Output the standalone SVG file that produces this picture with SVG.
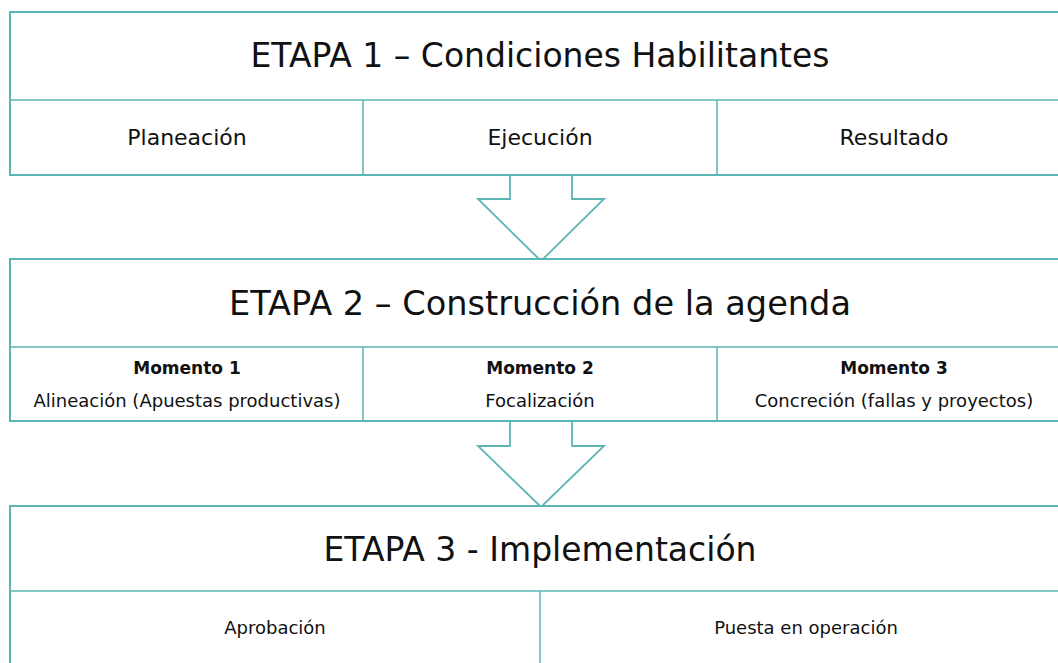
<svg xmlns="http://www.w3.org/2000/svg" width="1058" height="663" viewBox="0 0 1058 663">
<style>
.box{fill:#fff;stroke:#5BB5B5;stroke-width:2}
.div{stroke:#5BB5B5;stroke-width:1.5;fill:none}
.arrow{fill:#fff;stroke:#5BB5B5;stroke-width:1.8;stroke-linejoin:miter}
text{font-family:"DejaVu Sans",sans-serif;fill:#111;text-anchor:middle}
.t{font-size:33px}
.s{font-size:22px}
.b{font-size:17px;font-weight:bold}
.m{font-size:18px}
</style>
<rect width="1058" height="663" fill="#fff"/>
<g id="connectors">
<path class="arrow" d="M510,175 V199 H478 L541,261 L604,199 H572 V175"/>
<path class="arrow" d="M510,421 V446 H478 L541,507 L604,446 H572 V421"/>
</g>
<g id="etapa1">
<rect class="box" x="10" y="12" width="1061" height="163"/>
<line class="div" x1="10" y1="100" x2="1071" y2="100"/>
<line class="div" x1="363" y1="100" x2="363" y2="175"/>
<line class="div" x1="717" y1="100" x2="717" y2="175"/>
<text class="t" x="540" y="67">ETAPA 1 – Condiciones Habilitantes</text>
<text class="s" x="187" y="145">Planeación</text>
<text class="s" x="540" y="145">Ejecución</text>
<text class="s" x="894" y="145">Resultado</text>
</g>
<g id="etapa2">
<rect class="box" x="10" y="259" width="1061" height="162"/>
<line class="div" x1="10" y1="347" x2="1071" y2="347"/>
<line class="div" x1="363" y1="347" x2="363" y2="421"/>
<line class="div" x1="717" y1="347" x2="717" y2="421"/>
<text class="t" x="540" y="315" style="font-size:33.6px">ETAPA 2 – Construcción de la agenda</text>
<text class="b" x="187" y="374">Momento 1</text>
<text class="m" x="187" y="407">Alineación (Apuestas productivas)</text>
<text class="b" x="540" y="374">Momento 2</text>
<text class="m" x="540" y="407">Focalización</text>
<text class="b" x="894" y="374">Momento 3</text>
<text class="m" x="894" y="407">Concreción (fallas y proyectos)</text>
</g>
<g id="etapa3">
<rect class="box" x="10" y="506" width="1061" height="170"/>
<line class="div" x1="10" y1="591" x2="1071" y2="591"/>
<line class="div" x1="540" y1="591" x2="540" y2="676"/>
<text class="t" x="540" y="561">ETAPA 3 - Implementación</text>
<text class="m" x="275" y="634">Aprobación</text>
<text class="m" x="806" y="634">Puesta en operación</text>
</g>
</svg>
